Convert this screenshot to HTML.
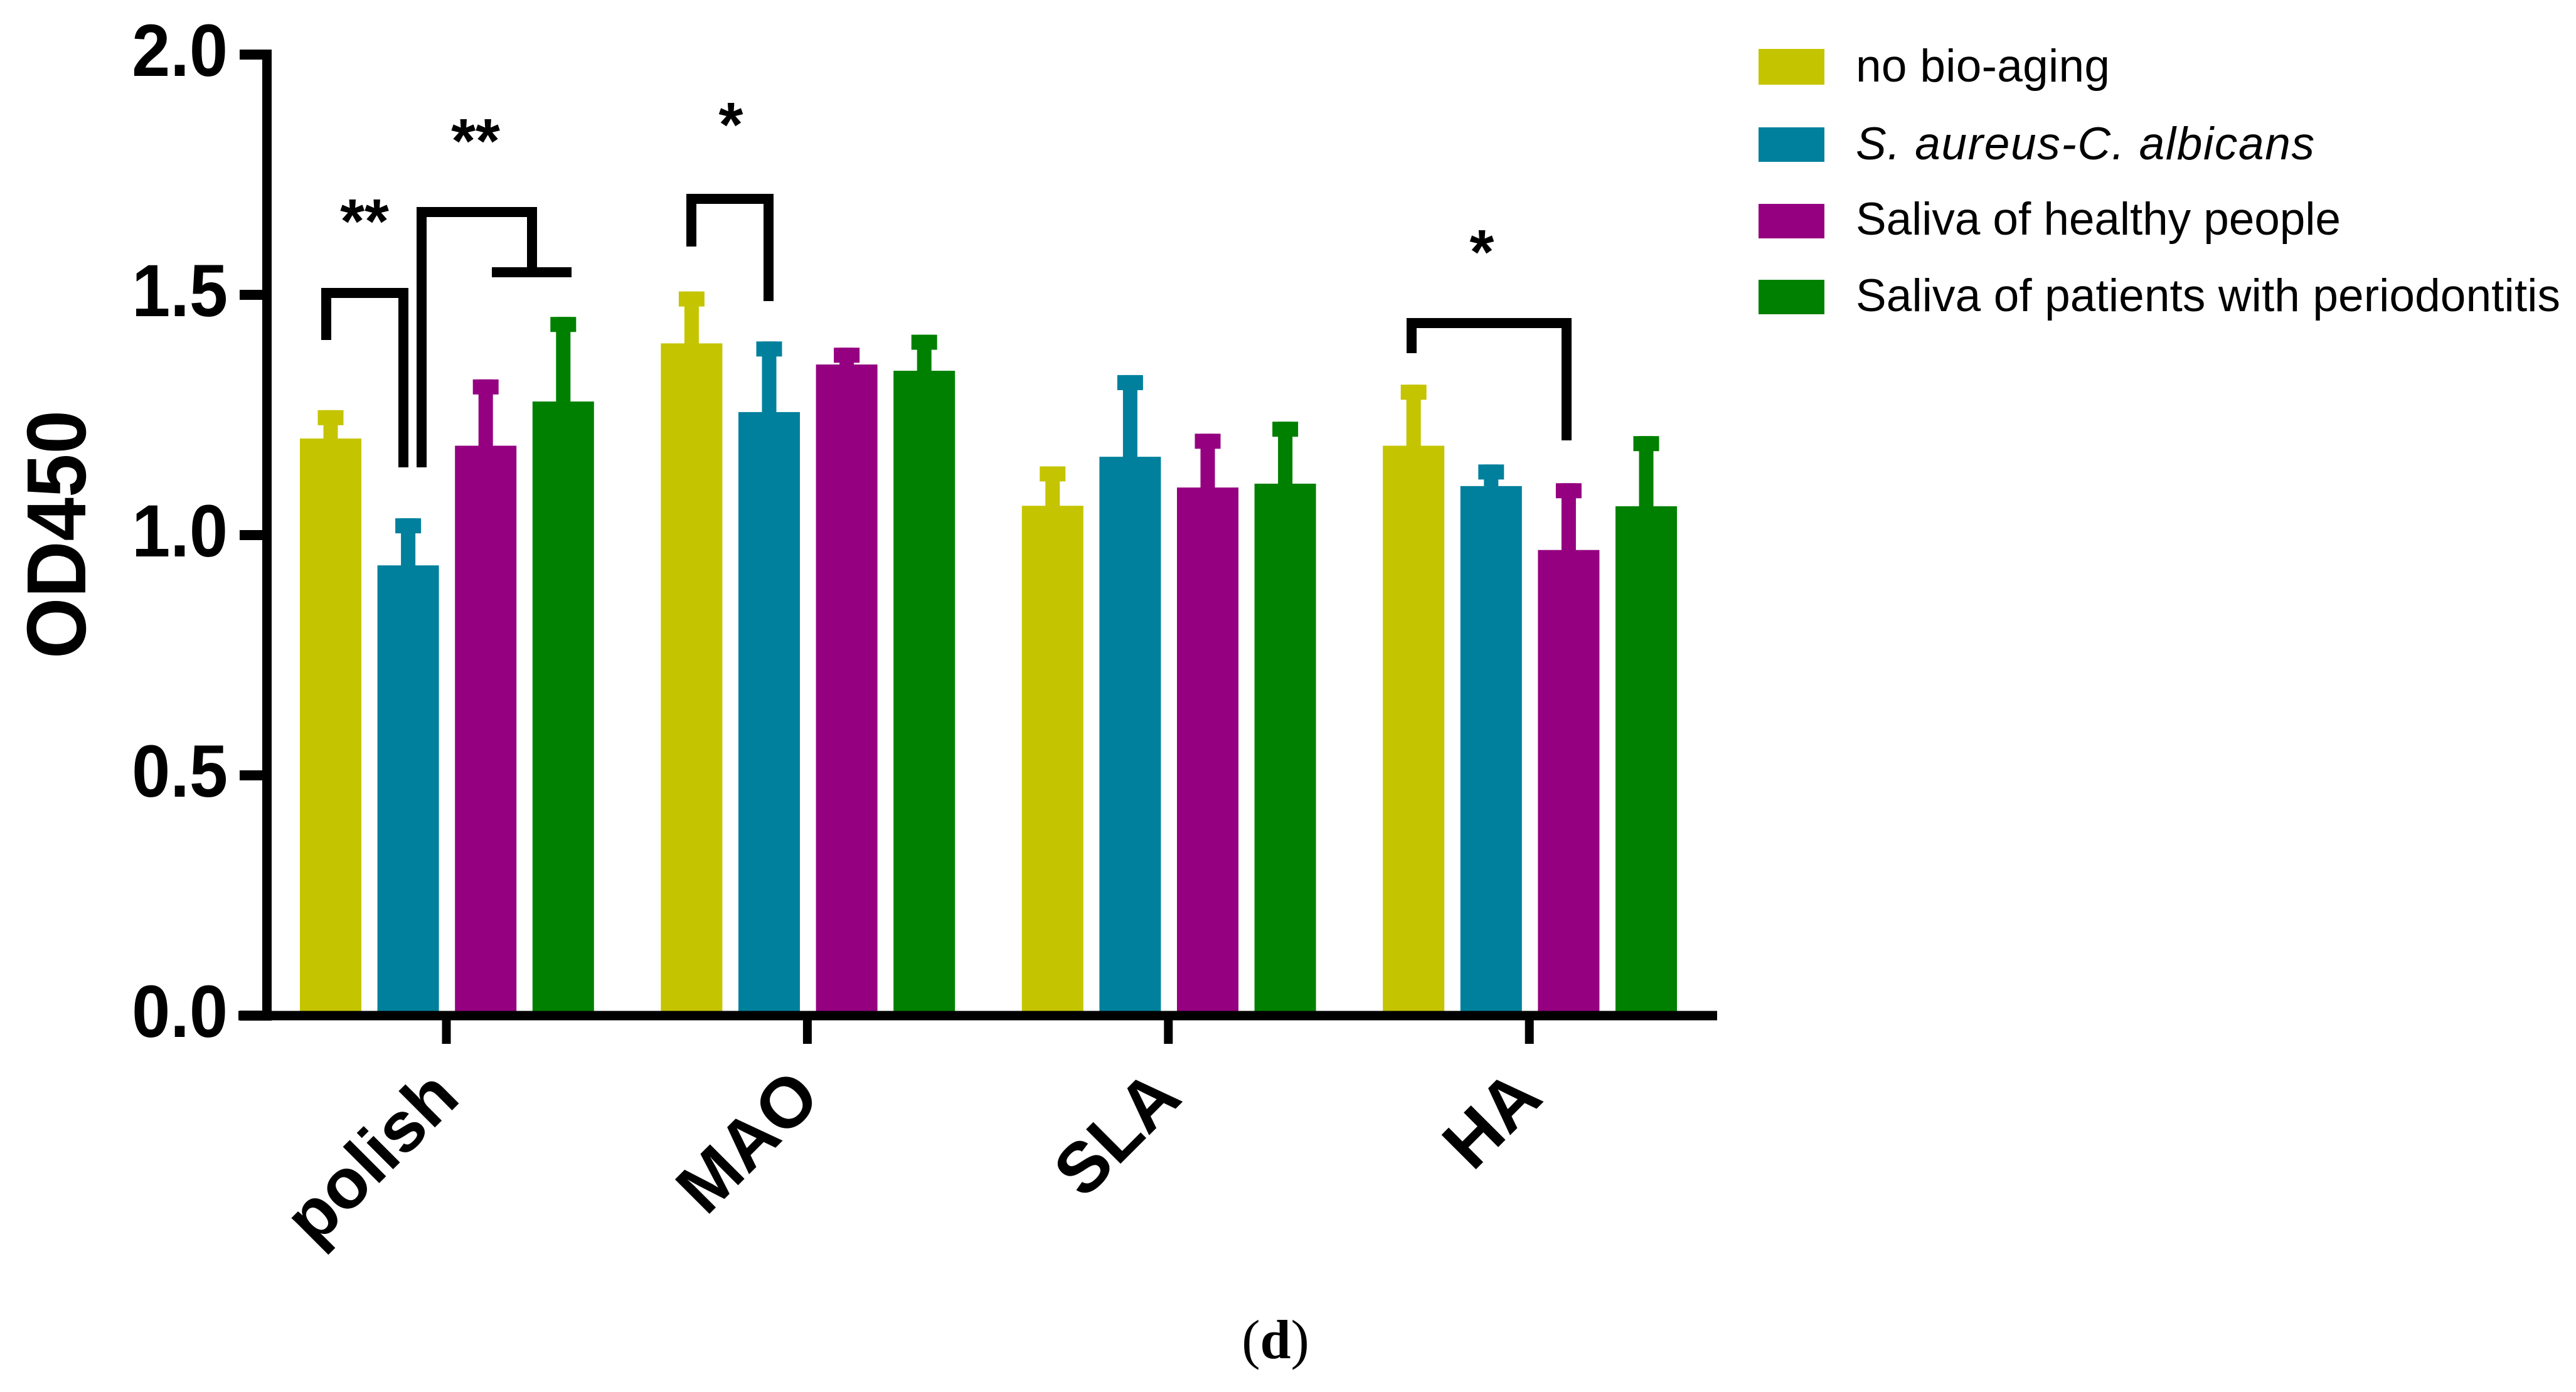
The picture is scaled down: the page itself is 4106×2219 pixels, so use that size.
<!DOCTYPE html>
<html lang="en">
<head>
<meta charset="utf-8">
<title>OD450 bar chart</title>
<style>
  html, body { margin: 0; padding: 0; background: #ffffff; }
  #chart { display: block; width: 4106px; height: 2219px; }
  text { font-family: "Liberation Sans", sans-serif; fill: #000; }
</style>
</head>
<body>
<svg id="chart" xmlns="http://www.w3.org/2000/svg" width="4106" height="2219" viewBox="0 0 4106 2219">
  <rect x="0" y="0" width="4106" height="2219" fill="#ffffff"/>
  <g id="bars"></g>
  <g id="axes"></g>

  <g fill="none" stroke="#000" stroke-width="16" stroke-linejoin="miter">
    <path d="M520 542 V467 H643 V745"/>
    <path d="M672 745 V338 H848 V434"/>
    <path d="M784 434 H911"/>
    <path d="M1102 393 V317 H1225 V480"/>
    <path d="M2250 563 V515 H2497 V702"/>
  </g>
  <g font-size="100" font-weight="700" text-anchor="middle">
    <text x="581" y="387">**</text>
    <text x="758" y="259">**</text>
    <text x="1165" y="233">*</text>
    <text x="2362" y="436">*</text>
  </g>

  <text transform="translate(136 852) rotate(-90) scale(1 1.07)" text-anchor="middle" font-size="125" font-weight="700">OD450</text>

  <g font-size="73">
    <g>
      <rect x="2803" y="78" width="105" height="57" fill="#c4c400"/>
      <text x="2958" y="130" textLength="405">no bio-aging</text>
    </g>
    <g>
      <rect x="2803" y="203" width="105" height="55" fill="#00809c"/>
      <text x="2958" y="254" font-style="italic" textLength="731">S. aureus-C. albicans</text>
    </g>
    <g>
      <rect x="2803" y="325" width="105" height="55" fill="#950080"/>
      <text x="2958" y="374" textLength="773">Saliva of healthy people</text>
    </g>
    <g>
      <rect x="2803" y="446" width="105" height="55" fill="#008000"/>
      <text x="2958" y="496" textLength="1123">Saliva of patients with periodontitis</text>
    </g>
  </g>

  <text x="2033" y="2165" text-anchor="middle" font-size="88" style="font-family:'Liberation Serif',serif">(<tspan font-weight="700">d</tspan>)</text>
</svg>

<script>
const categories = ['polish', 'MAO', 'SLA', 'HA'];
const yTickLabels = ['0.0', '0.5', '1.0', '1.5', '2.0'];
const yTickValues = [0, 0.5, 1, 1.5, 2];
const noBioAging = [1.201, 1.399, 1.061, 1.186];
const sAureusCAlbicans = [0.937, 1.256, 1.163, 1.102];
const salivaHealthy = [1.186, 1.355, 1.099, 0.969];
const salivaPeriodontitis = [1.278, 1.342, 1.107, 1.060];
const noBioAgingErr = [0.059, 0.108, 0.082, 0.127];
const sAureusCAlbicansErr = [0.098, 0.147, 0.170, 0.045];
const salivaHealthyErr = [0.138, 0.035, 0.112, 0.139];
const salivaPeriodontitisErr = [0.176, 0.075, 0.129, 0.146];

const NS = 'http://www.w3.org/2000/svg';
const series = [
  { key: 'no-bio-aging', values: noBioAging, errors: noBioAgingErr, color: '#c4c400' },
  { key: 's-aureus-c-albicans', values: sAureusCAlbicans, errors: sAureusCAlbicansErr, color: '#00809c' },
  { key: 'saliva-healthy', values: salivaHealthy, errors: salivaHealthyErr, color: '#950080' },
  { key: 'saliva-periodontitis', values: salivaPeriodontitis, errors: salivaPeriodontitisErr, color: '#008000' }
];

function yScale(v) { return 1619 - 766 * v; }
function barLeft(g, s) { return 478 + 575.4 * g + 123.6 * s; }
function groupCenter(g) { return 711.5 + 575.4 * g; }

const BAR_W = 98, CAP_W = 41, CAP_H = 24, STEM_W = 23;

function make(tag, attrs) {
  const el = document.createElementNS(NS, tag);
  for (const k in attrs) el.setAttribute(k, attrs[k]);
  return el;
}

const barsLayer = document.getElementById('bars');
series.forEach(function (sr, s) {
  categories.forEach(function (cat, g) {
    const left = barLeft(g, s);
    const top = yScale(sr.values[g]);
    const errTop = yScale(sr.values[g] + sr.errors[g]);
    const mid = left + BAR_W / 2;

    const bar = make('rect', { x: left, y: top, width: BAR_W, height: yScale(0) - top, fill: sr.color });
    
    
    barsLayer.appendChild(bar);

    const stem = make('rect', { x: mid - STEM_W / 2, y: errTop, width: STEM_W, height: top - errTop + 1, fill: sr.color });
    
    
    barsLayer.appendChild(stem);

    const cap = make('rect', { x: mid - CAP_W / 2, y: errTop, width: CAP_W, height: CAP_H, fill: sr.color });
    
    
    barsLayer.appendChild(cap);
  });
});

const axesLayer = document.getElementById('axes');

const yLine = make('rect', { x: 418, y: yScale(2) - 8, width: 15, height: yScale(0) - yScale(2) + 16, fill: '#000' });


axesLayer.appendChild(yLine);

const xLine = make('rect', { x: 380, y: yScale(0) - 7.5, width: 2357, height: 15, fill: '#000' });


axesLayer.appendChild(xLine);

yTickValues.forEach(function (v, i) {
  const ty = yScale(v);
  const tick = make('rect', { x: 382, y: ty - 8, width: 40, height: 16, fill: '#000' });
  
  
  axesLayer.appendChild(tick);

  const label = make('text', { x: 0, y: 0, 'text-anchor': 'end', 'font-size': 110, 'font-weight': 700, transform: 'translate(363 ' + (ty + 34) + ') scale(1 1.07)' });
  label.textContent = yTickLabels[i];
  
  
  axesLayer.appendChild(label);
});

categories.forEach(function (cat, g) {
  const cx = groupCenter(g);
  const tick = make('rect', { x: cx - 7, y: yScale(0), width: 14, height: 45, fill: '#000' });
  
  
  axesLayer.appendChild(tick);

  const ax = cx + 25, ay = 1754;
  const label = make('text', { x: ax, y: ay, 'text-anchor': 'end', 'font-size': 113, 'font-weight': 700, transform: 'rotate(-45 ' + ax + ' ' + ay + ')' });
  label.textContent = cat;
  
  
  axesLayer.appendChild(label);
});
</script>
</body>
</html>
